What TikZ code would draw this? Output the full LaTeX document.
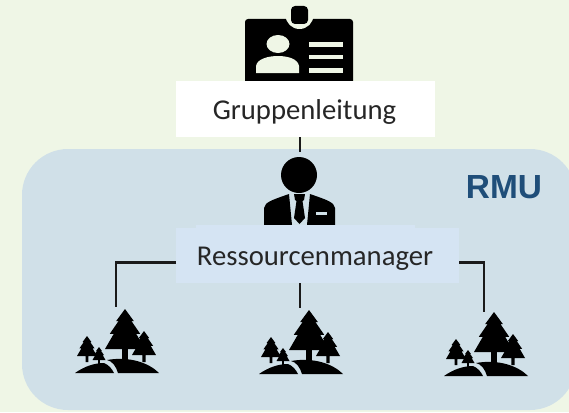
\documentclass[tikz,border=0pt]{standalone}
\usepackage{fontspec}
\setmainfont{Carlito}
\newfontfamily\rmufont{Liberation Sans}
\usepackage{xcolor}
\definecolor{pagegreen}{HTML}{EFF6E6}
\definecolor{unitblue}{HTML}{D0E0E8}
\definecolor{boxblue}{HTML}{D5E4F3}
\definecolor{rmublue}{HTML}{1F4E79}
\definecolor{linkgrey}{HTML}{1A1A1A}
\usetikzlibrary{positioning,calc}
\tikzset{
    labelbox/.style={inner sep=0pt, outer sep=0pt, text=black!85, font=\fontsize{28.7}{32}\selectfont},
    link/.style={draw=linkgrey, line width=2.2pt},
    pics/conifer/.style={code={
        % one tree, apex at the origin, #1 is half width of the lowest tier
        \fill (0,0) -- (0.44*#1,0.6*#1) -- (0.32*#1,0.6*#1)
            -- (0.76*#1,1.24*#1) -- (0.56*#1,1.24*#1)
            -- (#1,2*#1) -- (0.14*#1,2*#1)
            -- (0.14*#1,2.6*#1) -- (-0.14*#1,2.6*#1) -- (-0.14*#1,2*#1)
            -- (-#1,2*#1) -- (-0.56*#1,1.24*#1) -- (-0.76*#1,1.24*#1)
            -- (-0.32*#1,0.6*#1) -- (-0.44*#1,0.6*#1) -- cycle;
    }},
    pics/forest/.style={code={
        % origin is the top left corner of the icon
        \pic at (50,0) {conifer=20};
        \pic at (69,22) {conifer=12};
        \pic at (12,27) {conifer=10};
        \pic at (24,38) {conifer=6.5};
        \fill (0,64) .. controls (10,57) and (20,54) .. (29,54) .. controls (34,56) and (37,60) .. (39,64) -- cycle;
        \fill (32,51) .. controls (37,52) and (41,57) .. (43,64) -- (84,64) .. controls (74,54) and (55,47) .. (32,51) -- cycle;
    }}
}
\begin{document}
\begin{tikzpicture}[x=1pt,y=-1pt]
    \useasboundingbox (0,0) rectangle (569,412);
    \fill[pagegreen] (0,0) rectangle (569,412);
    \fill[unitblue, rounded corners=46pt] (22,149) rectangle (576,410);
    % badge
    \fill[rounded corners=3pt] (245,19) rectangle (353,90);
    \fill[pagegreen] (299.5,15) circle (14);
    \fill[rounded corners=4pt] (291,6) rectangle (308,24);
    \fill[pagegreen] (278,44) ellipse (11.5 and 9);
    \fill[pagegreen] (256,73) -- (256,66) .. controls (257,59) and (268,56) .. (278,56)
        .. controls (288,56) and (298,59) .. (299,66) -- (299,73) -- cycle;
    \foreach \yline/\hline in {42/5,55/4,68/5}
        \fill[pagegreen] (309,\yline) rectangle ++(34,\hline);
    % person
    \fill (299,175) circle (18);
    \fill (264,225) -- (264,208) .. controls (265,202) and (272,200) .. (289,194) -- (292,225) -- cycle;
    \fill (335,225) -- (335,208) .. controls (334,202) and (327,200) .. (310,194) -- (307,225) -- cycle;
    \fill (294,194) -- (305,194) -- (304,200) -- (302.5,201) -- (305,218) -- (299.5,224)
        -- (294,218) -- (296.5,201) -- (295,200) -- cycle;
    \fill[unitblue] (316,212) rectangle (327,214.5);
    % coordinates the links end at
    \coordinate (personTop) at (300,152);
    \coordinate (forestA) at (116,307);
    \coordinate (forestB) at (300,308);
    \coordinate (forestC) at (484,312);
    % boxes
    \fill[boxblue] (196,225) rectangle (415,235);
    \node[labelbox, fill=white, minimum width=259pt, minimum height=56pt] (lead) at (305.5,109) {};
    \node[labelbox, anchor=base] (leadtext) at (304.5,119) {Gruppenleitung};
    \node[labelbox, fill=boxblue, minimum width=283pt, minimum height=55pt] (manager) at (317.5,255.5) {};
    \node[labelbox, anchor=base] (managertext) at (315,265) {Ressourcenmanager};
    \node[text=rmublue, font=\rmufont\bfseries\fontsize{33.4}{38}\selectfont, inner sep=0pt, anchor=base] (rmu) at (504,198) {RMU};
    % links
    \draw[link] (personTop |- lead.south) -- (personTop);
    \draw[link] ([yshift=-7pt]manager.west) -| (forestA);
    \draw[link] (forestB |- manager.south) -- (forestB);
    \draw[link] ([yshift=-7pt]manager.east) -| (forestC);
    % forests
    \pic at (75,309) {forest};
    \pic at (259,310) {forest};
    \pic at (444,312) {forest};
\end{tikzpicture}
\end{document}
